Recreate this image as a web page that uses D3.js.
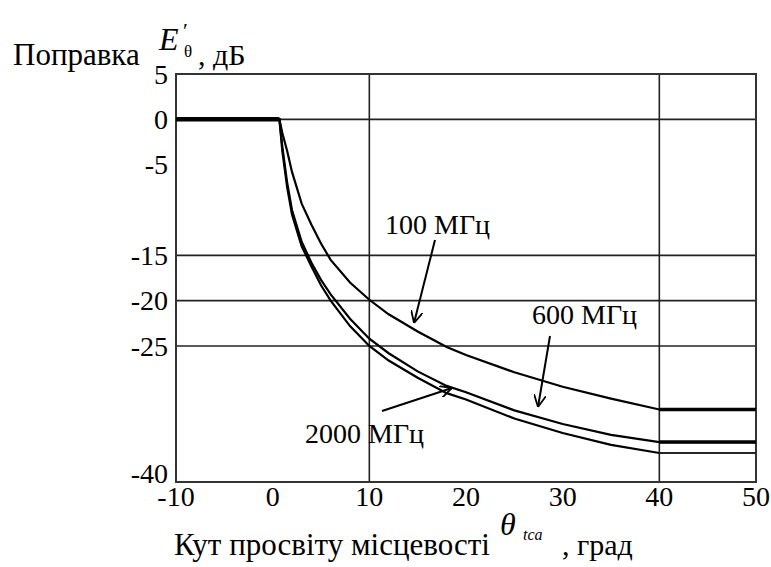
<!DOCTYPE html>
<html>
<head>
<meta charset="utf-8">
<script src="https://cdn.jsdelivr.net/npm/d3@7"></script>
<style>
  body { margin: 0; background: #fff; }
  text { font-family: "Liberation Serif", "DejaVu Serif", serif; }
</style>
</head>
<body>
<div id="chart"></div>
<script>
// angle of terrain clearance, degrees
const angles = [-10, 0.7, 1, 1.5, 2, 3, 4, 5, 6, 8, 10, 12, 15, 18, 20, 25, 30, 35, 40, 50];
// correction, dB
const mhz100  = [0, 0, -1.5, -3.5, -5.8, -9.3, -11.6, -13.7, -15.5, -18, -19.9, -21.5, -23.4, -25.1, -26, -27.9, -29.5, -30.8, -32, -32];
const mhz600  = [0, 0, -3, -7, -10, -13.5, -15.8, -17.7, -19.3, -22, -24.2, -25.8, -27.8, -29.4, -30.1, -32.1, -33.6, -34.8, -35.6, -35.6];
const mhz2000 = [0, 0, -3.5, -7.5, -10.5, -14, -16.2, -18.3, -20, -22.8, -25, -26.6, -28.5, -30.2, -30.9, -33, -34.6, -35.9, -36.8, -36.8];

const xTicks = [-10, 0, 10, 20, 30, 40, 50];
const yTicks = [5, 0, -5, -15, -20, -25, -40];
const xGrid = [10, 40];
const yGrid = [0, -15, -20, -25];

const width = 771, height = 567;
const margin = {left: 176, right: 15, top: 74, bottom: 85};

const svg = d3.select("#chart")
  .append("svg")
  .attr("width", width)
  .attr("height", height);

const x = d3.scaleLinear()
  .domain([-10, 50])
  .range([margin.left, width - margin.right]);

const y = d3.scaleLinear()
  .domain([-40, 5])
  .range([height - margin.bottom, margin.top]);

// grid lines
svg.append("g")
  .selectAll("line")
  .data(xGrid)
  .join("line")
    .attr("x1", d => x(d)).attr("x2", d => x(d))
    .attr("y1", y(5)).attr("y2", y(-40))
    .attr("stroke", "#222").attr("stroke-width", 1.6);

svg.append("g")
  .selectAll("line")
  .data(yGrid)
  .join("line")
    .attr("x1", x(-10)).attr("x2", x(50))
    .attr("y1", d => y(d)).attr("y2", d => y(d))
    .attr("stroke", "#222").attr("stroke-width", 1.6);

// frame
svg.append("rect")
  .attr("x", x(-10)).attr("y", y(5))
  .attr("width", x(50) - x(-10)).attr("height", y(-40) - y(5))
  .attr("fill", "none").attr("stroke", "#333").attr("stroke-width", 2);

// tick labels
svg.append("g")
  .selectAll("text")
  .data(yTicks)
  .join("text")
    .attr("x", x(-10) - 8)
    .attr("y", d => y(d))
    .attr("dy", d => d === -40 ? "0.05em" : "0.35em")
    .attr("text-anchor", "end")
    .style("font-size", "28px")
    .text(d => d);

svg.append("g")
  .selectAll("text")
  .data(xTicks)
  .join("text")
    .attr("x", d => x(d))
    .attr("y", y(-40) + 24)
    .attr("text-anchor", "middle")
    .style("font-size", "28px")
    .text(d => d);

// curves
const series = [mhz100, mhz600, mhz2000];
const line = d3.line()
  .x((d, i) => x(angles[i]))
  .y(d => y(d));

svg.append("g")
  .selectAll("path")
  .data(series)
  .join("path")
    .attr("d", line)
    .attr("fill", "none")
    .attr("stroke", "#000")
    .attr("stroke-width", 2.2);

// thick flat start
svg.append("path")
  .attr("d", line(mhz100.slice(0, 2)))
  .attr("stroke", "#000").attr("stroke-width", 4.5);

// flat tails past 40 deg: two heavy, one light
const tailLine = d3.line()
  .x((d, i) => x(angles[angles.length - 2 + i]))
  .y(d => y(d));
const tails = [
  {v: mhz100.slice(-2), w: 3.5},
  {v: mhz600.slice(-2), w: 3.5},
  {v: mhz2000.slice(-2), w: 1.4}
];
svg.append("g")
  .selectAll("path")
  .data(tails)
  .join("path")
    .attr("d", d => tailLine(d.v))
    .attr("fill", "none")
    .attr("stroke", d => d.w > 2 ? "#000" : "#333")
    .attr("stroke-width", d => d.w);

// annotations
svg.append("defs").append("marker")
  .attr("id", "arrow")
  .attr("viewBox", "0 0 10 10")
  .attr("refX", 10).attr("refY", 5)
  .attr("markerWidth", 12).attr("markerHeight", 12)
  .attr("markerUnits", "userSpaceOnUse")
  .attr("orient", "auto")
  .append("path")
    .attr("d", "M0,0 L10,5 L0,10")
    .attr("fill", "none").attr("stroke", "#000").attr("stroke-width", 1.5);

const notes = [
  {t: "100 МГц", tx: 385, ty: 234, a: [[435, 240], [414, 323]]},
  {t: "600 МГц", tx: 532, ty: 324, a: [[550, 336], [538, 407]]},
  {t: "2000 МГц", tx: 305, ty: 443, a: [[382, 411], [452, 388]]}
];

notes.forEach(n => {
  svg.append("text")
    .attr("x", n.tx).attr("y", n.ty)
    .style("font-size", "28px")
    .text(n.t);
  svg.append("line")
    .attr("x1", n.a[0][0]).attr("y1", n.a[0][1])
    .attr("x2", n.a[1][0]).attr("y2", n.a[1][1])
    .attr("stroke", "#000").attr("stroke-width", 2)
    .attr("marker-end", "url(#arrow)");
});

// y title
svg.append("text").attr("x", 13).attr("y", 65).style("font-size", "31px").text("Поправка");
svg.append("text").attr("x", 159).attr("y", 50).style("font-size", "32px")
  .style("font-style", "italic").text("E");
svg.append("text").attr("x", 184).attr("y", 57).style("font-size", "17px").text("θ");
svg.append("text").attr("x", 183).attr("y", 38).style("font-size", "22px").text("′");
svg.append("text").attr("x", 198).attr("y", 65).style("font-size", "30px").text(", дБ");

// x title
svg.append("text").attr("x", 174).attr("y", 555).style("font-size", "31px").text("Кут просвіту місцевості");
svg.append("text").attr("x", 500).attr("y", 535).style("font-size", "32px")
  .style("font-style", "italic").text("θ");
svg.append("text").attr("x", 523).attr("y", 540).style("font-size", "16px")
  .style("font-style", "italic").text("tca");
svg.append("text").attr("x", 562).attr("y", 555).style("font-size", "30px").text(",  град");
</script>
</body>
</html>
